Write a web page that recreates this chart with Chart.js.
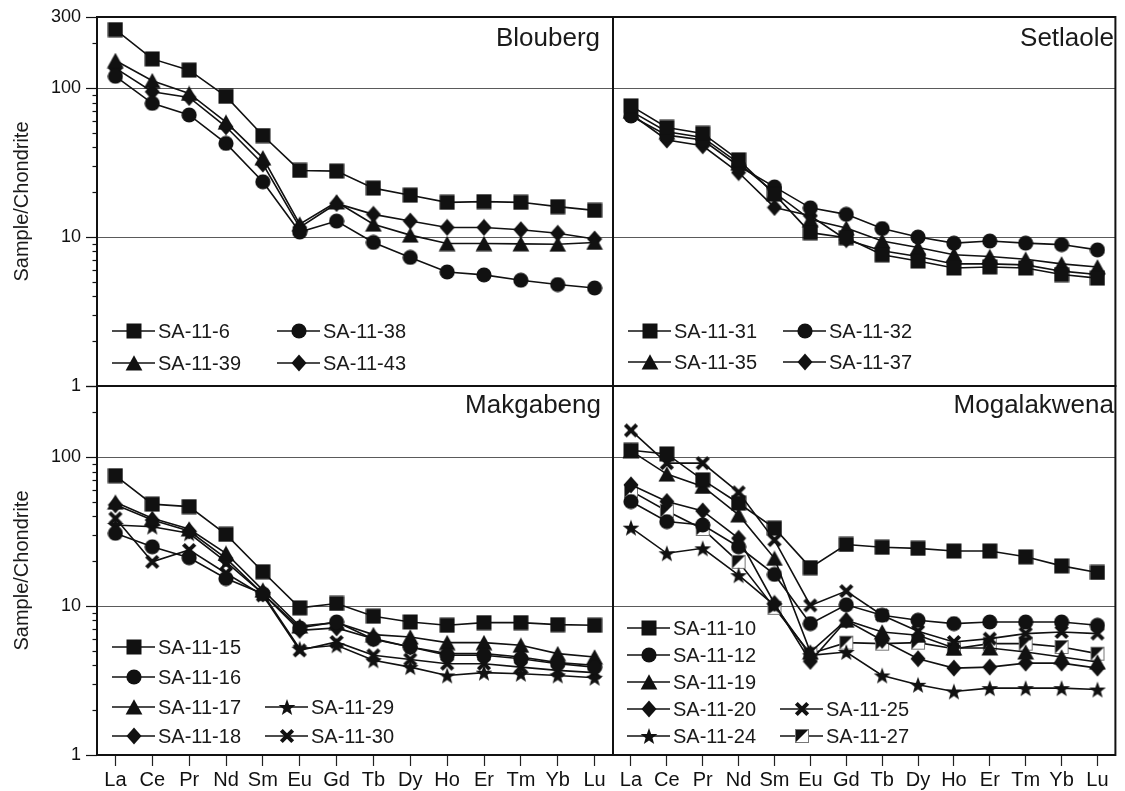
<!DOCTYPE html>
<html><head><meta charset="utf-8">
<script src="https://cdn.jsdelivr.net/npm/chart.js@4"></script>
<style>
html,body{margin:0;padding:0;background:#fff;width:1125px;height:791px;overflow:hidden}
canvas{position:absolute;left:0;top:0}
</style></head>
<body>
<canvas id="c1" width="1125" height="791"></canvas>
<canvas id="c2" width="1125" height="791"></canvas>
<canvas id="c3" width="1125" height="791"></canvas>
<canvas id="c4" width="1125" height="791"></canvas>
<script>
// ---------- data ----------
const ELEMENTS = ['La','Ce','Pr','Nd','Sm','Eu','Gd','Tb','Dy','Ho','Er','Tm','Yb','Lu'];
const Y_TICKS = [1,2,3,4,5,6,7,8,9,10,20,30,40,50,60,70,80,90,100,200,300];
const Y_LABELS_TOP = [1,10,100,300];
const Y_LABELS_BOTTOM = [1,10,100];
const GRID_VALUES = [10,100];
const Y_TITLE = 'Sample/Chondrite';

// Blouberg
const SA_11_6  = [247,157,132,88,48,28,27.7,21.3,19.1,17.1,17.3,17.1,16.0,15.1];
const SA_11_38 = [120,79,66,42.5,23.5,10.8,12.8,9.2,7.3,5.83,5.57,5.13,4.80,4.55];
const SA_11_39 = [153,112,92,59,34,12.2,17.2,12.2,10.3,9.04,9.04,9.0,8.95,9.2];
const SA_11_43 = [136,94.5,86.5,55,30.9,11.6,16.8,14.2,12.8,11.6,11.6,11.2,10.6,9.7];
// Setlaole
const SA_11_31 = [76,54.4,49.6,33,19.4,10.7,9.9,7.6,6.9,6.2,6.3,6.2,5.6,5.3];
const SA_11_32 = [65,48.3,44.8,30,21.7,15.7,14.2,11.4,10.0,9.1,9.4,9.1,8.9,8.2];
const SA_11_35 = [70,50.9,46.6,31.3,19.9,13.1,11.5,9.4,8.5,7.6,7.4,7.1,6.6,6.3];
const SA_11_37 = [67,44.8,41,27.1,15.8,13.9,9.6,8.1,7.4,6.6,6.6,6.5,5.9,5.6];
// Makgabeng
const SA_11_15 = [75,48.3,46.5,30.3,17,9.72,10.4,8.54,7.82,7.43,7.74,7.74,7.5,7.43];
const SA_11_16 = [30.8,25,21.1,15.3,12.1,7.13,7.82,5.98,5.31,4.67,4.67,4.43,4.1,3.89];
const SA_11_17 = [49.8,38.8,32.9,22.6,12.8,7.35,7.74,6.43,6.2,5.68,5.68,5.45,4.79,4.55];
const SA_11_18 = [47.8,37.8,31.9,20.9,12.1,6.87,7.13,6.04,5.31,4.79,4.79,4.55,4.17,4.0];
const SA_11_29 = [35,34.1,30.8,19.8,12.1,5.17,5.45,4.32,3.89,3.42,3.57,3.51,3.42,3.3];
const SA_11_30 = [38.8,19.8,23.8,16.6,11.8,5.04,5.74,4.67,4.38,4.1,4.1,3.89,3.70,3.57];
// Mogalakwena
const SA_11_10 = [111,105,70.3,49,33.3,18.1,25.9,24.8,24.4,23.4,23.4,21.4,18.6,16.8];
const SA_11_12 = [50.3,36.9,35,25,16.3,7.62,10.2,8.68,8.03,7.62,7.82,7.82,7.82,7.43];
const SA_11_19 = [110,76.9,63.5,40.9,20.9,4.91,8.03,6.7,6.36,5.23,5.23,4.91,4.55,4.21];
const SA_11_20 = [65.1,50.3,43.5,28.5,10.4,4.25,8.0,5.89,4.43,3.83,3.89,4.14,4.14,3.83];
const SA_11_24 = [33.6,22.6,24.4,16.1,10.1,4.67,4.91,3.42,2.96,2.67,2.81,2.81,2.81,2.75];
const SA_11_25 = [151,91,91,58,27.7,10.1,12.6,8.68,6.77,5.74,6.04,6.53,6.7,6.53];
const SA_11_27 = [59.3,43.5,32.9,19.8,9.72,4.79,5.68,5.59,5.68,5.17,5.59,5.59,5.31,4.79];

// ---------- markers ----------
function mk(w,h,draw){const c=document.createElement('canvas');c.width=w;c.height=h;const g=c.getContext('2d');g.fillStyle='#111';g.strokeStyle='#111';draw(g);return c;}
const MARK = {
  square: mk(16,16,g=>{g.fillRect(0.5,0.5,15,15);}),
  circle: mk(16,16,g=>{g.beginPath();g.arc(8,8,7.6,0,Math.PI*2);g.fill();}),
  triangle: mk(18,16,g=>{g.beginPath();g.moveTo(9,0.3);g.lineTo(17.4,15.5);g.lineTo(0.6,15.5);g.closePath();g.fill();}),
  diamond: mk(16,18,g=>{g.beginPath();g.moveTo(8,0.5);g.lineTo(15.5,9);g.lineTo(8,17.5);g.lineTo(0.5,9);g.closePath();g.fill();}),
  star: mk(18,18,g=>{g.beginPath();for(let i=0;i<10;i++){const r=i%2?3.6:8.8;const a=-Math.PI/2+i*Math.PI/5;const px=9+r*Math.cos(a),py=9.8+r*Math.sin(a);i?g.lineTo(px,py):g.moveTo(px,py);}g.closePath();g.fill();}),
  cross: mk(16,16,g=>{g.lineWidth=4;g.beginPath();g.moveTo(2.3,2.3);g.lineTo(13.7,13.7);g.moveTo(13.7,2.3);g.lineTo(2.3,13.7);g.stroke();}),
  halfsq: mk(16,16,g=>{g.fillStyle='#fff';g.fillRect(1,1,14,14);g.fillStyle='#111';g.beginPath();g.moveTo(1,1);g.lineTo(15,1);g.lineTo(1,15);g.closePath();g.fill();g.strokeStyle='#777';g.lineWidth=1;g.strokeRect(1.5,1.5,13,13);})
};

const FONT = "'Liberation Sans', Arial, Helvetica, sans-serif";
Chart.defaults.font.family = FONT;
Chart.defaults.color = '#111';

// ---------- panel plugin ----------
const panelPlugin = {
  id: 'panel',
  beforeDatasetsDraw(chart, args, opts){
    const {ctx, chartArea:a} = chart; const y = chart.scales.y;
    ctx.save(); ctx.strokeStyle='#5a5a5a'; ctx.lineWidth=1.2;
    GRID_VALUES.forEach(v=>{const py=Math.round(y.getPixelForValue(v))+0.5;ctx.beginPath();ctx.moveTo(a.left,py);ctx.lineTo(a.right,py);ctx.stroke();});
    ctx.restore();
  },
  afterDatasetsDraw(chart, args, opts){
    const {ctx, chartArea:a} = chart; const y = chart.scales.y;
    ctx.save();
    ctx.strokeStyle='#111'; ctx.lineWidth=2;
    ctx.strokeRect(a.left, a.top, a.right-a.left, a.bottom-a.top);
    if (opts.leftTicks){
      ctx.lineWidth=1.2;
      Y_TICKS.forEach(v=>{
        const py=Math.round(y.getPixelForValue(v))+0.5;
        const major = (v===1||v===10||v===100||v===300);
        const len = major?11:4.5;
        ctx.beginPath();ctx.moveTo(a.left-len,py);ctx.lineTo(a.left,py);ctx.stroke();
      });
    }
    ctx.fillStyle='#1a1a1a'; ctx.font='26px '+FONT; ctx.textAlign='right'; ctx.textBaseline='middle';
    ctx.fillText(opts.title, opts.titleX, opts.titleY);
    ctx.font='20px '+FONT; ctx.textAlign='left';
    opts.legend.forEach(it=>{
      const ds = chart.data.datasets.find(d=>d.label===it.name);
      ctx.strokeStyle='#111'; ctx.lineWidth=1.6;
      ctx.beginPath();ctx.moveTo(it.x,it.y);ctx.lineTo(it.x+43,it.y);ctx.stroke();
      const m = ds.pointStyle;
      ctx.drawImage(m, Math.round(it.x+21.5-m.width/2), Math.round(it.y-m.height/2));
      ctx.fillStyle='#1a1a1a';
      ctx.fillText(it.name, it.x+46, it.y+1);
    });
    ctx.restore();
  }
};

function makeChart(id, cfg){
  const labelsY = cfg.yLabels;
  return new Chart(document.getElementById(id), {
    type:'line',
    data:{
      labels: ELEMENTS,
      datasets: cfg.series.map(s=>({label:s[0], data:s[1], pointStyle:MARK[s[2]], borderColor:'#111', borderWidth:1.6,
        pointRadius:8, pointHoverRadius:8, fill:false, tension:0}))
    },
    options:{
      responsive:false, animation:false, events:[],
      layout:{padding:cfg.padding},
      plugins:{legend:{display:false}, tooltip:{enabled:false},
        panel:{title:cfg.title, titleX:cfg.titleX, titleY:cfg.titleY, legend:cfg.legend, leftTicks:cfg.showY}},
      scales:{
        x:{type:'category', offset:true, display:cfg.showX,
           grid:{display:true, drawOnChartArea:false, offset:false, tickLength:11, tickColor:'#222', tickWidth:1.2},
           border:{display:false},
           ticks:{autoSkip:false, maxRotation:0, minRotation:0, padding:2, color:'#111', font:{size:20}},
           afterFit:s=>{s.height = cfg.showX ? 36 : 0;}},
        y:{type:'logarithmic', min:1, max:300, display:cfg.showY,
           afterBuildTicks:s=>{s.ticks = Y_TICKS.map(v=>({value:v}));},
           ticks:{autoSkip:false, padding:5, color:'#111', font:{size:18},
                  callback:(v)=> labelsY.includes(v) ? String(v) : ''},
           grid:{display:true, drawOnChartArea:false, tickLength:11, tickColor:'rgba(0,0,0,0)'},
           border:{display:false},
           title:{display:true, text:Y_TITLE, color:'#1a1a1a', padding:{top:10,bottom:0}, font:{size:20}},
           afterFit:s=>{s.width = cfg.showY ? 97 : 0;}}
      }
    },
    plugins:[panelPlugin]
  });
}

makeChart('c1', {
  title:'Blouberg', titleX:600, titleY:39, showX:false, showY:true, yLabels:Y_LABELS_TOP,
  padding:{left:0, top:17, right:512, bottom:405},
  series:[['SA-11-6',SA_11_6,'square'],['SA-11-38',SA_11_38,'circle'],['SA-11-39',SA_11_39,'triangle'],['SA-11-43',SA_11_43,'diamond']],
  legend:[{name:'SA-11-6',x:112,y:331},{name:'SA-11-38',x:277,y:331},{name:'SA-11-39',x:112,y:363},{name:'SA-11-43',x:277,y:363}]
});
makeChart('c2', {
  title:'Setlaole', titleX:1114, titleY:39, showX:false, showY:false, yLabels:[],
  padding:{left:613, top:17, right:1, bottom:405},
  series:[['SA-11-31',SA_11_31,'square'],['SA-11-32',SA_11_32,'circle'],['SA-11-35',SA_11_35,'triangle'],['SA-11-37',SA_11_37,'diamond']],
  legend:[{name:'SA-11-31',x:628,y:331},{name:'SA-11-32',x:783,y:331},{name:'SA-11-35',x:628,y:362},{name:'SA-11-37',x:783,y:362}]
});
makeChart('c3', {
  title:'Makgabeng', titleX:601, titleY:406, showX:true, showY:true, yLabels:Y_LABELS_BOTTOM,
  padding:{left:0, top:386, right:512, bottom:0},
  series:[['SA-11-15',SA_11_15,'square'],['SA-11-16',SA_11_16,'circle'],['SA-11-17',SA_11_17,'triangle'],['SA-11-18',SA_11_18,'diamond'],['SA-11-29',SA_11_29,'star'],['SA-11-30',SA_11_30,'cross']],
  legend:[{name:'SA-11-15',x:112,y:647},{name:'SA-11-16',x:112,y:677},{name:'SA-11-17',x:112,y:707},{name:'SA-11-18',x:112,y:736},{name:'SA-11-29',x:265,y:707},{name:'SA-11-30',x:265,y:736}]
});
makeChart('c4', {
  title:'Mogalakwena', titleX:1114, titleY:406, showX:true, showY:false, yLabels:[],
  padding:{left:613, top:386, right:1, bottom:0},
  series:[['SA-11-10',SA_11_10,'square'],['SA-11-12',SA_11_12,'circle'],['SA-11-19',SA_11_19,'triangle'],['SA-11-20',SA_11_20,'diamond'],['SA-11-24',SA_11_24,'star'],['SA-11-25',SA_11_25,'cross'],['SA-11-27',SA_11_27,'halfsq']],
  legend:[{name:'SA-11-10',x:627,y:628},{name:'SA-11-12',x:627,y:655},{name:'SA-11-19',x:627,y:682},{name:'SA-11-20',x:627,y:709},{name:'SA-11-24',x:627,y:736},{name:'SA-11-25',x:780,y:709},{name:'SA-11-27',x:780,y:736}]
});
</script>
</body></html>
